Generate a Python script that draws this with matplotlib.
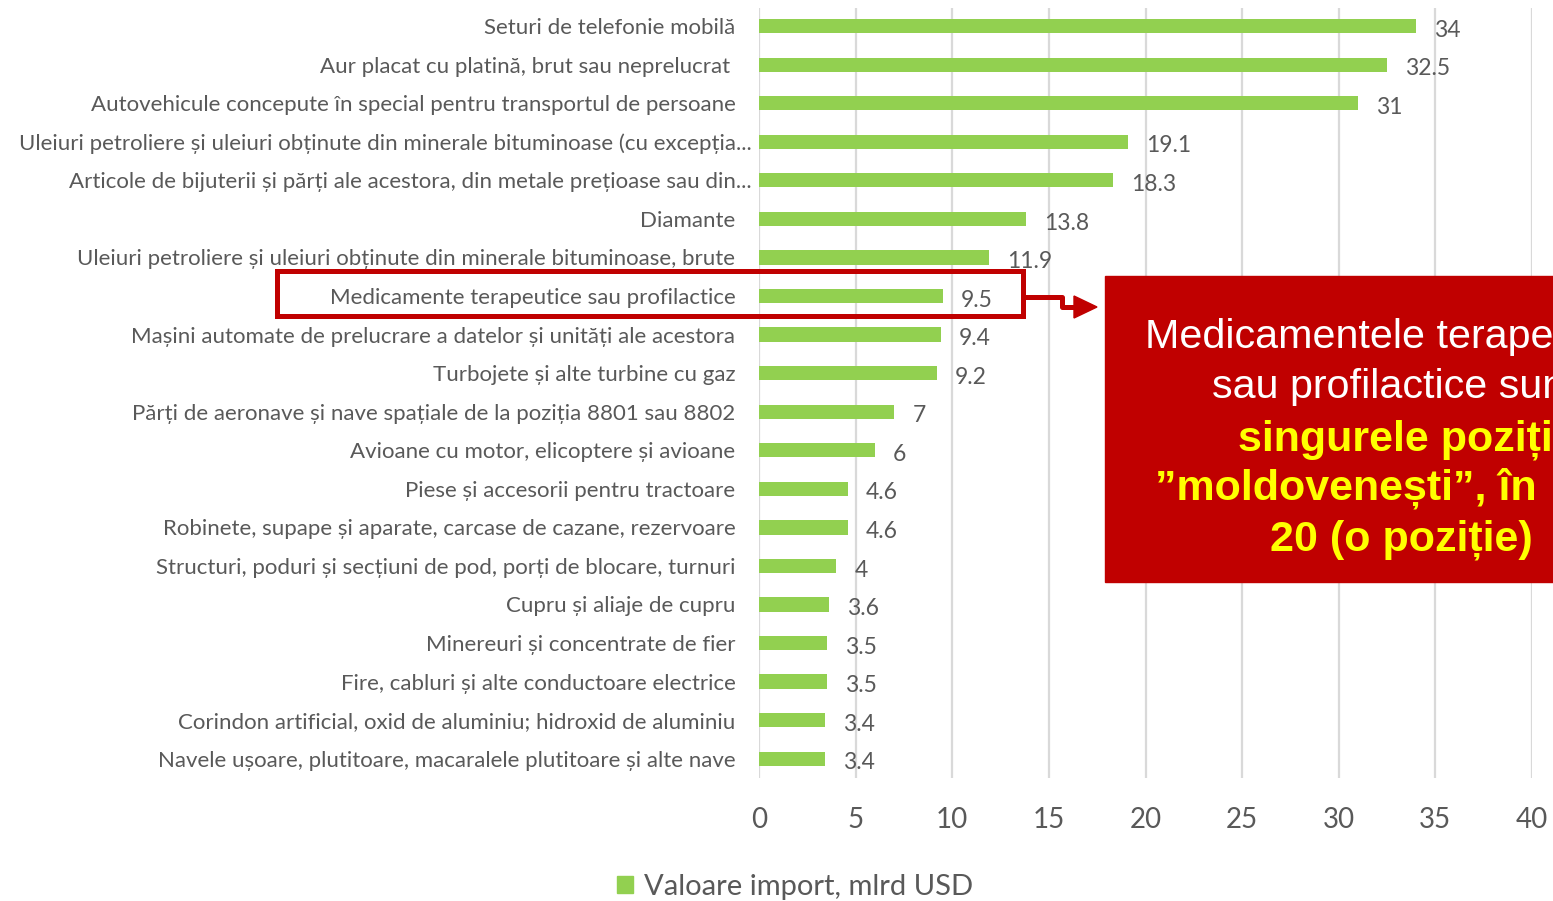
import matplotlib.pyplot as plt
import matplotlib.patches as mpatches
from matplotlib.lines import Line2D
import numpy as np

categories = [
    'Seturi de telefonie mobilă',
    'Aur placat cu platină, brut sau neprelucrat ',
    'Autovehicule concepute în special pentru transportul de persoane',
    'Uleiuri petroliere și uleiuri obținute din minerale bituminoase (cu excepția...',
    'Articole de bijuterii și părți ale acestora, din metale prețioase sau din...',
    'Diamante',
    'Uleiuri petroliere și uleiuri obținute din minerale bituminoase, brute',
    'Medicamente terapeutice sau profilactice',
    'Mașini automate de prelucrare a datelor și unități ale acestora',
    'Turbojete și alte turbine cu gaz',
    'Părți de aeronave și nave spațiale de la poziția 8801 sau 8802',
    'Avioane cu motor, elicoptere și avioane',
    'Piese și accesorii pentru tractoare',
    'Robinete, supape și aparate, carcase de cazane, rezervoare',
    'Structuri, poduri și secțiuni de pod, porți de blocare, turnuri',
    'Cupru și aliaje de cupru',
    'Minereuri și concentrate de fier',
    'Fire, cabluri și alte conductoare electrice',
    'Corindon artificial, oxid de aluminiu; hidroxid de aluminiu',
    'Navele ușoare, plutitoare, macaralele plutitoare și alte nave',
]
values = [34, 32.5, 31, 19.1, 18.3, 13.8, 11.9, 9.5, 9.4, 9.2,
          7, 6, 4.6, 4.6, 4, 3.6, 3.5, 3.5, 3.4, 3.4]
value_labels = ['34', '32.5', '31', '19.1', '18.3', '13.8', '11.9', '9.5', '9.4', '9.2',
                '7', '6', '4.6', '4.6', '4', '3.6', '3.5', '3.5', '3.4', '3.4']
xticks = [0, 5, 10, 15, 20, 25, 30, 35, 40]
series_name = 'Valoare import, mlrd USD'

callout_lines = [
    ('Medicamentele terapeutice', 'white', 'normal'),
    ('sau profilactice sunt', 'white', 'normal'),
    ('singurele poziții', '#FFFF00', 'bold'),
    ('”moldovenești”, în', '#FFFF00', 'bold'),
    ('20 (o poziție)', '#FFFF00', 'bold'),
]

GREEN = '#92D050'
GREY = '#595959'
RED = '#C00000'
W, H = 1553, 901

plt.rcParams['font.family'] = ['Lato', 'DejaVu Sans']

fig = plt.figure(figsize=(W / 100, H / 100), dpi=100)
ax = fig.add_axes([759 / W, 1 - 778 / H, (1532 - 759) / W, (778 - 8) / H])

# shrink category font so the longest label fits the space left of the axis
renderer = fig.canvas.get_renderer()
probe = fig.text(0, 0, max(categories, key=len), fontsize=16)
label_size = min(16, 16 * 738 / probe.get_window_extent(renderer).width)
probe.remove()

y = np.arange(len(categories))
ax.barh(y, values, height=0.37, color=GREEN, zorder=3)
for yi, v, lab in zip(y, values, value_labels):
    ax.annotate(lab, (v, yi), xytext=(13, -3), textcoords='offset points',
                ha='left', va='center', fontsize=16.5, color=GREY)

ax.set_xlim(0, 40)
ax.set_ylim(len(categories) - 0.5, -0.47)
ax.set_xticks(xticks)
ax.set_yticks(y)
ax.set_yticklabels(categories)
ax.tick_params(axis='y', length=0, pad=17, labelsize=label_size, labelcolor=GREY)
ax.tick_params(axis='x', length=0, pad=21, labelsize=20, labelcolor=GREY)
# truncated labels sit closer to the axis, like in Excel
for tick, cat in zip(ax.yaxis.get_major_ticks(), categories):
    if cat.endswith('...'):
        tick.set_pad(5)
ax.grid(axis='x', color='#D9D9D9', linewidth=1.6, zorder=0)
for s in ax.spines.values():
    s.set_visible(False)

handle = mpatches.Patch(color=GREEN, label=series_name)
fig.legend(handles=[handle], loc='center', bbox_to_anchor=(795 / W, 1 - 887 / H),
           frameon=False, fontsize=21, labelcolor=GREY,
           handlelength=0.55, handleheight=0.55, handletextpad=0.4)


def fx(px):
    return px / W


def fy(py):
    return 1 - py / H


# red frame around the medicines row
fig.patches.append(mpatches.Rectangle((fx(276.5), fy(315.5)), fx(1022.5) - fx(276.5),
                                      fy(271.5) - fy(315.5), fill=False,
                                      edgecolor=RED, linewidth=3.6,
                                      transform=fig.transFigure, figure=fig))
# elbow arrow
fig.lines.append(Line2D([fx(1025), fx(1062), fx(1062), fx(1076)],
                        [fy(297), fy(297), fy(307), fy(307)], color=RED,
                        linewidth=3.6, transform=fig.transFigure, figure=fig))
fig.patches.append(mpatches.Polygon([(fx(1074), fy(296)), (fx(1097), fy(307)), (fx(1074), fy(318))],
                                    closed=True, color=RED,
                                    transform=fig.transFigure, figure=fig))
# callout box
fig.patches.append(mpatches.Rectangle((fx(1105), fy(582)), fx(1560) - fx(1105),
                                      fy(276) - fy(582), color=RED,
                                      transform=fig.transFigure, figure=fig))
starts = [1145, 1212, 1238, 1155, 1270]
baselines = [348, 398, 450, 500, 550]
for (txt, col, wt), x0, b in zip(callout_lines, starts, baselines):
    fig.text(fx(x0), fy(b), txt, ha='left', va='baseline', color=col,
             fontweight=wt, fontsize=29.7 if wt == 'normal' else 31,
             family=['Liberation Sans', 'DejaVu Sans'])

fig.savefig('out.png', dpi=100)
